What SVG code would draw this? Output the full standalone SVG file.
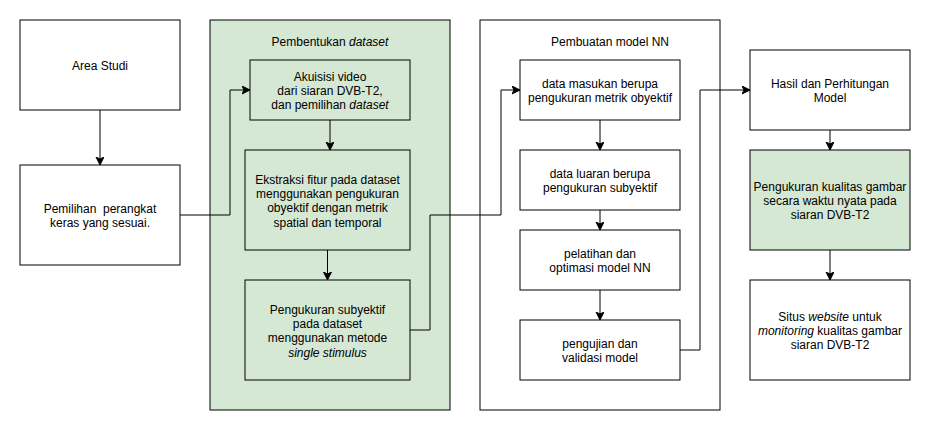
<svg xmlns="http://www.w3.org/2000/svg" width="931" height="431" viewBox="0 0 931 431">
<style>
.box{fill:#ffffff;stroke:#000000;stroke-width:1}
.green{fill:#d5e8d4;stroke:#000000;stroke-width:1}
text{font-family:"Liberation Sans",Arial,Helvetica,sans-serif;font-size:12px;fill:#000000;text-anchor:middle}
.edge{fill:none;stroke:#000000;stroke-width:1}
</style>
<defs>
<marker id="arr" markerUnits="userSpaceOnUse" markerWidth="10" markerHeight="10" refX="8" refY="4" orient="auto">
<path d="M0,0 L8,4 L0,8 L2,4 z" fill="#000000" stroke="#000000" stroke-width="1"/>
</marker>
</defs>
<rect x="0" y="0" width="931" height="431" fill="#ffffff"/>
<g id="container-dataset">
<rect class="green" x="210" y="20" width="240" height="390"/>
<text x="330" y="46">Pembentukan <tspan font-style="italic">dataset</tspan></text>
</g>
<g id="container-nn">
<rect class="box" x="480" y="20" width="240" height="390"/>
<text x="610" y="46">Pembuatan model NN</text>
</g>
<g id="edges">
<path class="edge" d="M100,110 V165" marker-end="url(#arr)"/>
<path class="edge" d="M180,215 H230 V90 H250" marker-end="url(#arr)"/>
<path class="edge" d="M330,120 V150" marker-end="url(#arr)"/>
<path class="edge" d="M327.5,250 V280" marker-end="url(#arr)"/>
<path class="edge" d="M410,330 H430 V215 H501 V90 H520" marker-end="url(#arr)"/>
<path class="edge" d="M600,120 V150" marker-end="url(#arr)"/>
<path class="edge" d="M600,210 V230" marker-end="url(#arr)"/>
<path class="edge" d="M600,290 V320" marker-end="url(#arr)"/>
<path class="edge" d="M680,350 H700 V90 H750" marker-end="url(#arr)"/>
<path class="edge" d="M830,130 V150" marker-end="url(#arr)"/>
<path class="edge" d="M830,250 V280" marker-end="url(#arr)"/>
</g>
<g id="area-studi">
<rect class="box" x="20" y="20" width="160" height="90"/>
<text x="100" y="69.5">Area Studi</text>
</g>
<g id="pemilihan">
<rect class="box" x="20" y="165" width="160" height="100"/>
<text x="100" y="212.5" xml:space="preserve">Pemilihan  perangkat</text>
<text x="100" y="226.9">keras yang sesuai.</text>
</g>
<g id="akuisisi">
<rect class="green" x="250" y="60" width="160" height="60"/>
<text x="330" y="80.5">Akuisisi video</text>
<text x="330" y="94.9">dari siaran DVB-T2,</text>
<text x="330" y="109.3">dan pemilihan <tspan font-style="italic">dataset</tspan></text>
</g>
<g id="ekstraksi">
<rect class="green" x="245" y="150" width="165" height="100"/>
<text x="327.5" y="183.5">Ekstraksi fitur pada dataset</text>
<text x="327.5" y="197.9">menggunakan pengukuran</text>
<text x="327.5" y="212.3">obyektif dengan metrik</text>
<text x="327.5" y="226.7">spatial dan temporal</text>
</g>
<g id="pengukuran-subyektif">
<rect class="green" x="245" y="280" width="165" height="100"/>
<text x="327.5" y="313.5">Pengukuran subyektif</text>
<text x="327.5" y="327.9">pada dataset</text>
<text x="327.5" y="342.3">menggunakan metode</text>
<text x="327.5" y="356.7" font-style="italic">single stimulus</text>
</g>
<g id="data-masukan">
<rect class="box" x="520" y="60" width="160" height="60"/>
<text x="600" y="87.5">data masukan berupa</text>
<text x="600" y="101.9">pengukuran metrik obyektif</text>
</g>
<g id="data-luaran">
<rect class="box" x="520" y="150" width="160" height="60"/>
<text x="600" y="177.5">data luaran berupa</text>
<text x="600" y="191.9">pengukuran subyektif</text>
</g>
<g id="pelatihan">
<rect class="box" x="520" y="230" width="160" height="60"/>
<text x="600" y="257.5">pelatihan dan</text>
<text x="600" y="271.9">optimasi model NN</text>
</g>
<g id="pengujian">
<rect class="box" x="520" y="320" width="160" height="60"/>
<text x="600" y="347.5">pengujian dan</text>
<text x="600" y="361.9">validasi model</text>
</g>
<g id="hasil">
<rect class="box" x="750" y="50" width="160" height="80"/>
<text x="830" y="87.5">Hasil dan Perhitungan</text>
<text x="830" y="101.9">Model</text>
</g>
<g id="pengukuran-kualitas">
<rect class="green" x="750" y="150" width="160" height="100"/>
<text x="830" y="190.5">Pengukuran kualitas gambar</text>
<text x="830" y="204.9">secara waktu nyata pada</text>
<text x="830" y="219.3">siaran DVB-T2</text>
</g>
<g id="situs">
<rect class="box" x="750" y="280" width="160" height="100"/>
<text x="830" y="320.5">Situs <tspan font-style="italic">website</tspan> untuk</text>
<text x="830" y="334.9"><tspan font-style="italic">monitoring</tspan> kualitas gambar</text>
<text x="830" y="349.3">siaran DVB-T2</text>
</g>
</svg>
